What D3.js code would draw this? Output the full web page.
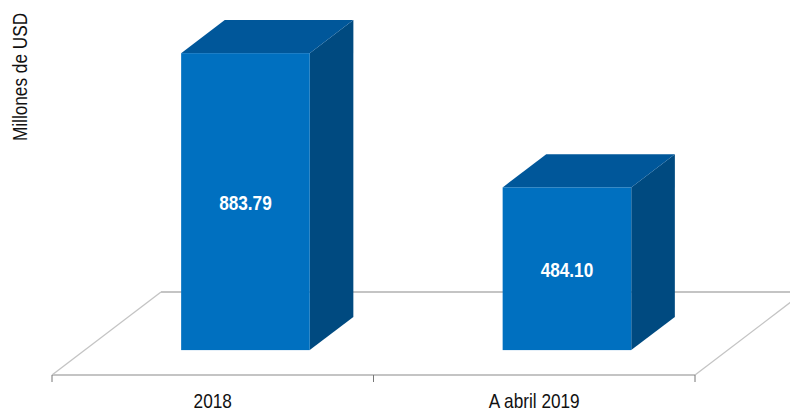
<!DOCTYPE html>
<html>
<head>
<meta charset="utf-8">
<script src="https://cdn.jsdelivr.net/npm/d3@7"></script>
<style>
  html, body { margin: 0; padding: 0; background: #fff; }
  svg text { font-family: "Liberation Sans", Arial, sans-serif; }
</style>
</head>
<body>
<svg id="chart"></svg>
<script>
const categories = ["2018", "A abril 2019"];
const values = [883.79, 484.10];
const valueLabels = ["883.79", "484.10"];
const yTitle = "Millones de USD";

const width = 790, height = 412;
const svg = d3.select("#chart").attr("width", width).attr("height", height);

// narrow look of the original font: squeeze Liberation Sans horizontally
const squeeze = 0.82;

// floor front edge and depth vector of the 3D box
const floorY = 375;
const depth = { dx: 109, dy: -83 };
const barDepthStart = 0.3, barDepthSize = 0.4;

const x = d3.scaleBand().domain(categories).range([52, 695]).padding(0);
const barBase = floorY + depth.dy * barDepthStart;
const y = d3.scaleLinear().domain([0, 1000]).range([barBase, barBase - 336]);

// floor
const x0 = x.range()[0], x1 = x.range()[1];
const floor = svg.append("g").attr("fill", "none").attr("stroke", "#c4c4c4");
floor.append("line").attr("x1", x0).attr("y1", floorY).attr("x2", x0 + depth.dx).attr("y2", floorY + depth.dy).attr("stroke-width", 1.3);
floor.append("line").attr("x1", x1).attr("y1", floorY).attr("x2", x1 + depth.dx).attr("y2", floorY + depth.dy).attr("stroke-width", 1.3);
floor.append("line").attr("x1", x0 + depth.dx).attr("y1", floorY + depth.dy).attr("x2", x1 + depth.dx).attr("y2", floorY + depth.dy).attr("stroke-width", 2);
floor.append("line").attr("x1", x0).attr("y1", floorY).attr("x2", x1).attr("y2", floorY).attr("stroke-width", 2.2);

// tick marks at category boundaries
const tickXs = categories.map(c => x(c)).concat([x1]);
svg.append("g").selectAll("line").data(tickXs).enter().append("line")
    .attr("x1", d => d).attr("x2", d => d)
    .attr("y1", floorY).attr("y2", floorY + 7)
    .attr("stroke", "#777").attr("stroke-width", 1);

// category labels
svg.append("g").selectAll("text").data(categories).enter().append("text")
    .attr("transform", d => `translate(${x(d) + x.bandwidth() / 2},408) scale(${squeeze},1)`)
    .attr("text-anchor", "middle")
    .attr("font-size", 21)
    .attr("fill", "#111")
    .text(d => d);

// bars
const bw = x.bandwidth() * 0.4;
const bdx = depth.dx * barDepthSize, bdy = depth.dy * barDepthSize;
const offX = depth.dx * barDepthStart;

const bars = svg.append("g").selectAll("g").data(categories).enter().append("g");
bars.each(function (c, i) {
    const g = d3.select(this);
    const left = x(c) + (x.bandwidth() - bw) / 2 + offX;
    const right = left + bw;
    const top = y(values[i]);
    const bottom = y(0);
    // side face
    g.append("path")
        .attr("d", `M${right},${top}L${right + bdx},${top + bdy}L${right + bdx},${bottom + bdy}L${right},${bottom}Z`)
        .attr("fill", "#004a80");
    // top face
    g.append("path")
        .attr("d", `M${left},${top}L${left + bdx},${top + bdy}L${right + bdx},${top + bdy}L${right},${top}Z`)
        .attr("fill", "#00579a");
    // front face
    g.append("rect")
        .attr("x", left).attr("y", top)
        .attr("width", bw).attr("height", bottom - top)
        .attr("fill", "#0070c0");
    g.append("text")
        .attr("transform", `translate(${left + bw / 2},${(top + bottom) / 2 + 8}) scale(${squeeze},1)`)
        .attr("text-anchor", "middle")
        .attr("font-size", 21)
        .attr("font-weight", "bold")
        .attr("fill", "#fff")
        .text(valueLabels[i]);
});

// y axis title
svg.append("text")
    .attr("transform", `translate(27,77) rotate(-90) scale(${squeeze},1)`)
    .attr("text-anchor", "middle")
    .attr("font-size", 21)
    .attr("fill", "#111")
    .text(yTitle);
</script>
</body>
</html>
